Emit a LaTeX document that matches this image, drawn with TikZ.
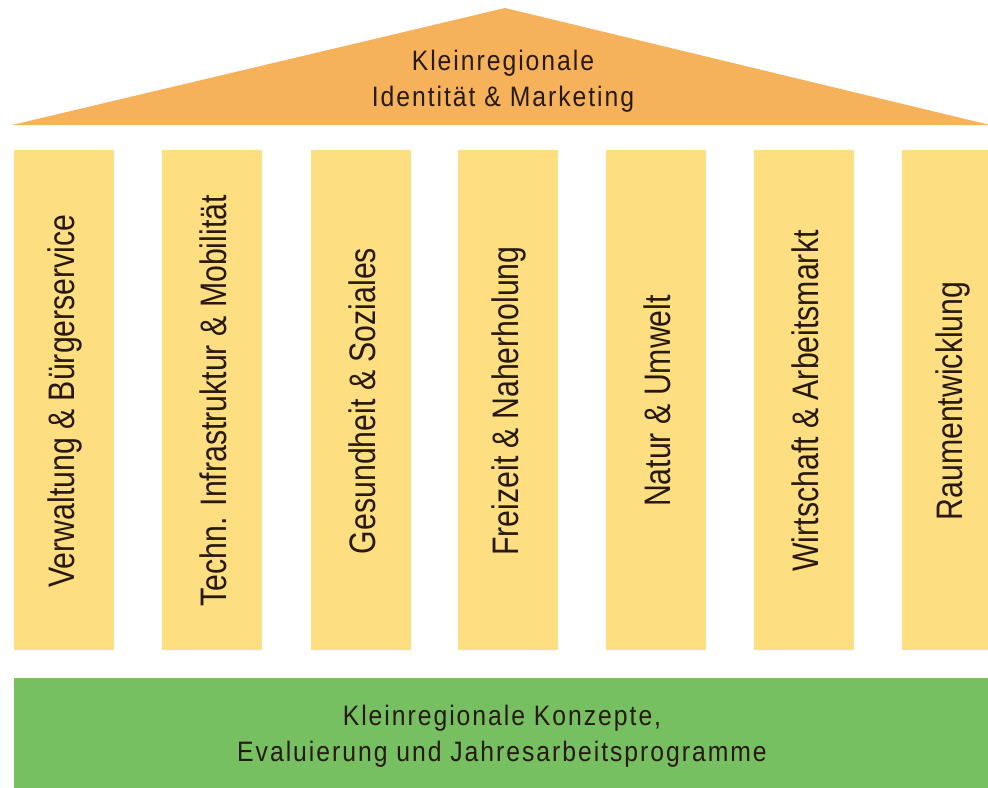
\documentclass[tikz,border=0pt]{standalone}
\usepackage{fontspec}
\setmainfont[FakeStretch=0.88, LetterSpace=7]{Liberation Sans}
\newfontfamily\saeulenfont[FakeStretch=0.82]{Liberation Sans}
\usetikzlibrary{positioning}
\definecolor{dach}{RGB}{246,178,90}
\definecolor{saeulengelb}{RGB}{253,222,128}
\definecolor{sockel}{RGB}{118,192,98}
\definecolor{schrift}{RGB}{40,25,15}

\begin{document}
\begin{tikzpicture}[x=0.02cm, y=-0.02cm,
  every node/.style={text=schrift, font=\fontsize{16}{20.5}\selectfont}]
  \useasboundingbox (0,0) rectangle (988,788);
  %----- Dach -----
  \fill[dach] (12,125) -- (505,8) -- (990,125) -- cycle;
  \node[align=center] (dach) at (503,81) {Kleinregionale\\Identität \& Marketing};

  %----- Säulen -----
  \def\saeule#1#2#3{ % (name, linkes x, text)
    \fill[saeulengelb] (#2,150) rectangle ++(100,500);
    \node[rotate=90, font=\saeulenfont\fontsize{21}{24}\selectfont] (#1) at (#2+51,401) {#3};
  }
  \saeule{verw}{14}{Verwaltung \& Bürgerservice}
  \saeule{techn}{162}{Techn. Infrastruktur \& Mobilität}
  \saeule{gesund}{311}{Gesundheit \& Soziales}
  \saeule{freizeit}{458}{Freizeit \& Naherholung}
  \saeule{natur}{606}{Natur \& Umwelt}
  \saeule{wirtschaft}{754}{Wirtschaft \& Arbeitsmarkt}
  \saeule{raum}{902}{Raumentwicklung}

  %----- Sockel -----
  \fill[sockel] (14,678) rectangle (990,790);
  \node[align=center] (sockel) at (502,736) {Kleinregionale Konzepte,\\Evaluierung und Jahresarbeitsprogramme};
\end{tikzpicture}
\end{document}
